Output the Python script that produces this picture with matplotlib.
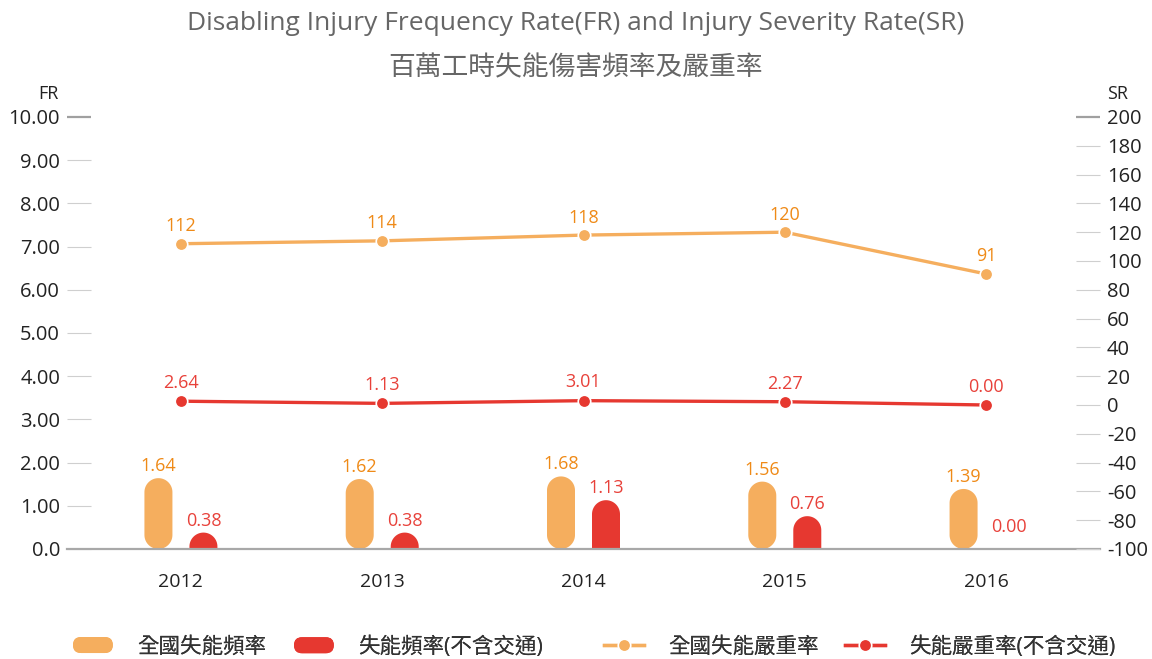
import matplotlib
matplotlib.use('Agg')
import matplotlib.pyplot as plt
import numpy as np
from matplotlib.patches import Polygon, FancyBboxPatch
from matplotlib.lines import Line2D
from matplotlib.legend_handler import HandlerPatch

plt.rcParams['font.family'] = ['Open Sans', 'Noto Sans CJK TC', 'DejaVu Sans']

years = ['2012', '2013', '2014', '2015', '2016']
fr_national = [1.64, 1.62, 1.68, 1.56, 1.39]
fr_excl_traffic = [0.38, 0.38, 1.13, 0.76, 0.00]
sr_national = [112, 114, 118, 120, 91]
sr_excl_traffic = [2.64, 1.13, 3.01, 2.27, 0.00]

fr_ticks = np.arange(0, 11)
sr_ticks = np.arange(-100, 201, 20)

ORANGE = '#F5AE5E'
ORANGE_TXT = '#EF8A17'
RED = '#E63830'
RED_TXT = '#E8413A'
TICK = '#CFCFCF'
TICK_DARK = '#A0A0A0'
TEXT = '#222222'

fig = plt.figure(figsize=(11.52, 6.59), dpi=100)
ax = fig.add_axes([67 / 1152, 110 / 659, 1033 / 1152, 432 / 659])
x = np.arange(len(years))
ax.set_xlim(-0.566, len(years) - 1 + 0.566)
ax.set_ylim(0, 10)

# bar geometry in data units, from a pixel size
bbox = ax.get_window_extent()
ux = np.diff(ax.get_xlim())[0] / bbox.width
uy = np.diff(ax.get_ylim())[0] / bbox.height
rx = 14 * ux
ry = 14 * uy
offset = 22.5 * ux


def rounded_bar(xc, h, color, round_bottom):
    if h <= 0:
        return
    cap = min(ry, h / 2 if round_bottom else h)
    t = np.linspace(0, np.pi, 40)
    top = np.column_stack([xc + rx * np.cos(t), h - cap + cap * np.sin(t)])
    if round_bottom:
        bot = np.column_stack([xc - rx * np.cos(t), cap - cap * np.sin(t)])
    else:
        bot = np.array([[xc - rx, 0], [xc + rx, 0]])
    ax.add_patch(Polygon(np.vstack([top, bot]), closed=True, facecolor=color,
                         edgecolor='none', zorder=2))


def bar_label(xc, v, color):
    # empty bars get their label lifted a little off the baseline
    lift = 5 if v > 0 else 12
    ax.annotate(f'{v:.2f}', (xc, v), xytext=(0, lift), textcoords='offset points',
                ha='center', va='baseline', fontsize=13, color=color)


for i, v in enumerate(fr_national):
    rounded_bar(x[i] - offset, v, ORANGE, True)
    bar_label(x[i] - offset, v, ORANGE_TXT)
for i, v in enumerate(fr_excl_traffic):
    rounded_bar(x[i] + offset, v, RED, False)
    bar_label(x[i] + offset, v, RED_TXT)

for side in ['top', 'left', 'right']:
    ax.spines[side].set_visible(False)
ax.spines['bottom'].set_color('#A8A8A8')
ax.spines['bottom'].set_linewidth(1.6)
ax.spines['bottom'].set_zorder(3)

ax.set_xticks(x)
ax.set_xticklabels(years)
ax.tick_params(axis='x', length=0, pad=17, labelsize=14, labelcolor=TEXT)
ax.set_yticks(fr_ticks)
ax.set_yticklabels(['0.0'] + [f'{v:.2f}' for v in fr_ticks[1:]])
ax.tick_params(axis='y', direction='in', length=17, width=0.8, color=TICK, pad=5,
               labelsize=14.5, labelcolor=TEXT)
top_tick = ax.yaxis.get_major_ticks()[-1]
top_tick.tick1line.set_markeredgecolor(TICK_DARK)
top_tick.tick1line.set_markeredgewidth(1.6)

# severity rate on the right axis
ax2 = ax.twinx()
ax2.set_ylim(-100, 200)
for side in ax2.spines:
    ax2.spines[side].set_visible(False)
ax2.set_yticks(sr_ticks)
ax2.set_yticklabels([str(v) for v in sr_ticks])
ax2.tick_params(axis='y', direction='in', length=17, width=0.8, color=TICK, pad=5,
                labelsize=14.5, labelcolor=TEXT)
top_tick2 = ax2.yaxis.get_major_ticks()[-1]
top_tick2.tick2line.set_markeredgecolor(TICK_DARK)
top_tick2.tick2line.set_markeredgewidth(1.6)

ax2.plot(x, sr_national, color=ORANGE, lw=2.4, marker='o', markersize=9,
         markeredgecolor='white', markeredgewidth=1.2, zorder=4)
ax2.plot(x, sr_excl_traffic, color=RED, lw=2.4, marker='o', markersize=9,
         markeredgecolor='white', markeredgewidth=1.2, zorder=4)
for i, v in enumerate(sr_national):
    ax2.annotate(f'{v:d}', (x[i], v), xytext=(0, 9), textcoords='offset points',
                 ha='center', va='baseline', fontsize=13, color=ORANGE_TXT)
for i, v in enumerate(sr_excl_traffic):
    ax2.annotate(f'{v:.2f}', (x[i], v), xytext=(0, 9.5), textcoords='offset points',
                 ha='center', va='baseline', fontsize=13, color=RED_TXT)

fig.text(48 / 1152, 1 - 94 / 659, 'FR', ha='center', va='center', fontsize=13, color=TEXT)
fig.text(1118 / 1152, 1 - 94 / 659, 'SR', ha='center', va='center', fontsize=13, color=TEXT)

fig.text(0.5, 1 - 23 / 659, 'Disabling Injury Frequency Rate(FR) and Injury Severity Rate(SR)',
         ha='center', va='center', fontsize=19, color='#666666')
fig.text(0.5, 1 - 68 / 659, '百萬工時失能傷害頻率及嚴重率',
         ha='center', va='center', fontsize=19.3, color='#666666')


def pill(legend, orig_handle, xdescent, ydescent, width, height, fontsize):
    h = 16 * 0.72
    return FancyBboxPatch((-xdescent, -ydescent + height / 2 - h / 2), width, h,
                          boxstyle=f'round,pad=0,rounding_size={h / 2}',
                          mutation_aspect=1)


handles = [
    FancyBboxPatch((0, 0), 1, 1, facecolor=ORANGE, edgecolor='none'),
    FancyBboxPatch((0, 0), 1, 1, facecolor=RED, edgecolor='none'),
    Line2D([0], [0], color=ORANGE, lw=2.4, marker='o', markersize=9,
           markeredgecolor='white', markeredgewidth=1.2),
    Line2D([0], [0], color=RED, lw=2.4, marker='o', markersize=9,
           markeredgecolor='white', markeredgewidth=1.2),
]
labels = ['全國失能頻率', '失能頻率(不含交通)', '全國失能嚴重率', '失能嚴重率(不含交通)']
legend_x = [73, 294, 604, 845]

# one legend per entry so each sits at its own place along the bottom row
for handle, label, lx in zip(handles, labels, legend_x):
    leg = fig.legend([handle], [label], loc='center left',
                     bbox_to_anchor=(lx / 1152, 1 - 647 / 659), frameon=False,
                     borderpad=0, borderaxespad=0, fontsize=15.5, labelcolor='#333333',
                     handlelength=1.85, handleheight=0.8, handletextpad=1.15,
                     handler_map={FancyBboxPatch: HandlerPatch(patch_func=pill)})
    fig.add_artist(leg)

fig.savefig('out.png', dpi=100)
